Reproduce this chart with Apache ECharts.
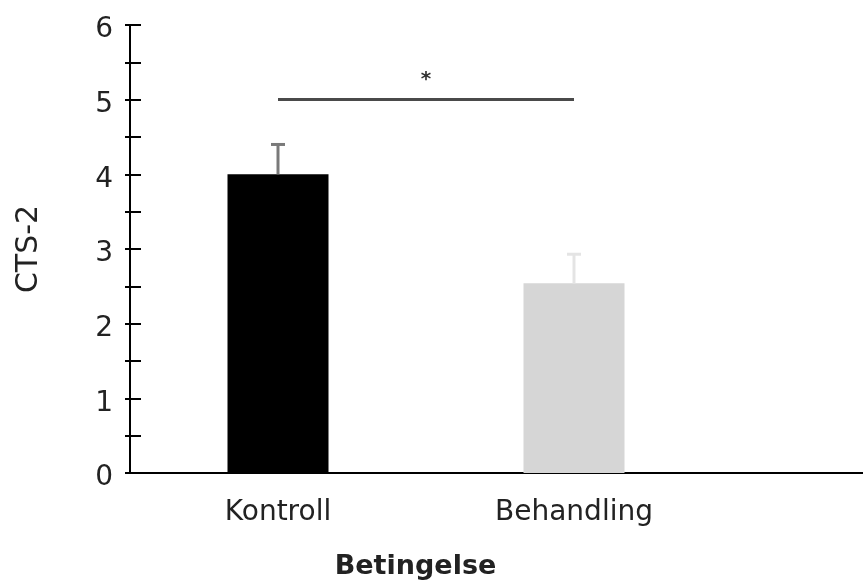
<!DOCTYPE html>
<html>
<head>
<meta charset="utf-8">
<script src="https://cdn.jsdelivr.net/npm/echarts@6/dist/echarts.min.js"></script>
<style>html,body{margin:0;padding:0;background:#fff}#c{width:863px;height:583px}</style>
</head>
<body>
<div id="c"></div>
<script>
var categories = ['Kontroll', 'Behandling'];
var means = [4.0, 2.54];
var errUpper = [4.40, 2.93];
var barColors = ['#000000', '#d6d6d6'];
var errColors = ['#7a7a7a', '#e4e4e4'];
var sigLevel = 5.0;
var sigLabel = '*';
var yTicks = [0, 1, 2, 3, 4, 5, 6];
var xName = 'Betingelse';
var yName = 'CTS-2';

var positions = categories.map(function (c, i) { return i + 0.5; });
var FONT = 'DejaVu Sans';

var chart = echarts.init(document.getElementById('c'), null, { renderer: 'canvas' });
chart.setOption({
  animation: false,
  backgroundColor: '#ffffff',
  grid: { left: 130, right: 0, top: 25, bottom: 110, containLabel: false, outerBoundsMode: 'none' },
  xAxis: {
    type: 'value', min: 0, max: 733 / 296,
    splitLine: { show: false },
    axisLine: { show: true, lineStyle: { color: '#000', width: 2 } },
    axisTick: { show: false },
    axisLabel: {
      customValues: positions,
      margin: 26,
      fontFamily: FONT, fontSize: 28, color: '#222',
      formatter: function (v) {
        var i = Math.round(v - 0.5);
        return categories[i] || '';
      }
    },
    name: xName, nameLocation: 'middle', nameGap: 80,
    nameTextStyle: { fontFamily: FONT, fontSize: 27, fontWeight: 'bold', color: '#222', padding: [0, 162, 0, 0] }
  },
  yAxis: [{
    type: 'value', min: 0, max: 6, interval: 1,
    splitLine: { show: false },
    axisLine: { show: true, lineStyle: { color: '#000', width: 2 } },
    axisTick: { show: true, inside: true, length: 11, lineStyle: { color: '#000', width: 2 } },
    minorTick: { show: true, splitNumber: 2, length: 11, lineStyle: { color: '#000', width: 2 } },
    axisLabel: {
      margin: 17, fontFamily: FONT, fontSize: 28, color: '#222',
      verticalAlign: 'top', lineHeight: 10,
      formatter: function (v) { return yTicks.indexOf(v) >= 0 ? String(v) : ''; }
    },
    name: yName, nameLocation: 'middle', nameGap: 86, nameRotate: 90,
    nameTextStyle: { fontFamily: FONT, fontSize: 30, color: '#222' }
  }, {
    type: 'value', min: 0, max: 6, interval: 0.5, position: 'left',
    splitLine: { show: false },
    axisLine: { show: false },
    axisTick: { show: true, inside: false, length: 5, lineStyle: { color: '#000', width: 2 } },
    axisLabel: { show: false }
  }],
  series: [{
    type: 'bar',
    barWidth: 101,
    data: means.map(function (m, i) {
      return { value: [positions[i], m], itemStyle: { color: barColors[i] } };
    }),
    markLine: {
      silent: true,
      symbol: ['none', 'none'],
      lineStyle: { color: '#4a4a4a', width: 3, type: 'solid' },
      label: { show: true, position: 'middle', formatter: sigLabel, fontFamily: FONT, fontSize: 20, fontWeight: 'bold', color: '#333', distance: 10 },
      data: [[{ coord: [positions[0], sigLevel] }, { coord: [positions[1], sigLevel] }]]
    }
  }, {
    type: 'custom',
    data: means.map(function (m, i) { return [positions[i], m, errUpper[i], i]; }),
    renderItem: function (params, api) {
      var x = api.value(0), lo = api.value(1), hi = api.value(2), i = api.value(3);
      var p0 = api.coord([x, lo]);
      var p1 = api.coord([x, hi]);
      var col = errColors[i];
      return {
        type: 'group',
        children: [
          { type: 'line', shape: { x1: p0[0], y1: p0[1], x2: p1[0], y2: p1[1] }, style: { stroke: col, lineWidth: 3 } },
          { type: 'line', shape: { x1: p1[0] - 7, y1: p1[1], x2: p1[0] + 7, y2: p1[1] }, style: { stroke: col, lineWidth: 3 } }
        ]
      };
    },
    z: 3
  }]
});
</script>
</body>
</html>
